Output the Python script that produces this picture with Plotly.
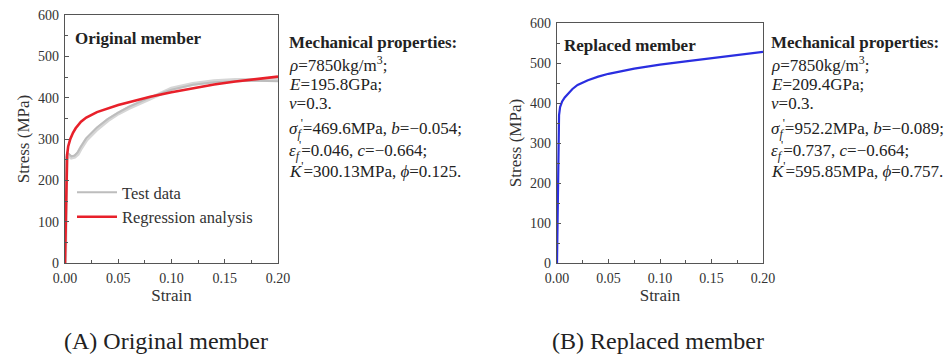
import plotly.graph_objects as go

# Original member: regression curve and test data (strain, stress in MPa)
orig_strain = [0, 0.0012, 0.002, 0.003, 0.005, 0.0075, 0.01, 0.015, 0.02, 0.03, 0.04,
               0.05, 0.06, 0.08, 0.10, 0.12, 0.14, 0.16, 0.18, 0.20]
orig_regression = [0, 235, 262, 282, 300, 315, 326, 342, 352, 365, 374,
                   382, 389, 402, 413, 423, 432, 439, 445, 451]

test_strain = [0, 0.0013, 0.0025, 0.004, 0.006, 0.009, 0.012, 0.015, 0.02, 0.03, 0.04,
               0.05, 0.06, 0.08, 0.10, 0.12, 0.14, 0.16, 0.18, 0.20]
test_a = [0, 255, 266, 262, 258, 260, 268, 282, 302, 328, 348,
          364, 378, 401, 419, 431, 437, 440, 441, 440]
test_b = [0, 250, 262, 259, 255, 257, 264, 278, 298, 324, 345,
          362, 375, 398, 422, 433, 440, 443, 444, 443]

# Replaced member: regression curve
repl_strain = [0, 0.0015, 0.002, 0.003, 0.005, 0.0075, 0.01, 0.015, 0.02, 0.03, 0.04,
               0.05, 0.075, 0.10, 0.125, 0.15, 0.175, 0.20]
repl_stress = [0, 330, 370, 390, 404, 414, 421, 435, 445, 457, 466,
               473, 486, 496, 504, 512, 520, 528]

x_ticks = [0.00, 0.05, 0.10, 0.15, 0.20]
x_tick_text = ["0.00", "0.05", "0.10", "0.15", "0.20"]
y_ticks = [0, 100, 200, 300, 400, 500, 600]

props_a = [
    "<b>Mechanical properties:</b>",
    "<i>ρ</i>=7850kg/m<sup>3</sup>;",
    "<i>E</i>=195.8GPa;",
    "<i>ν</i>=0.3.",
    "<i>σ</i><sub><i>f</i></sub><sup>'</sup>=469.6MPa, <i>b</i>=−0.054;",
    "<i>ε</i><sub><i>f</i></sub><sup>'</sup>=0.046, <i>c</i>=−0.664;",
    "<i>K</i><sup>'</sup>=300.13MPa, <i>ϕ</i>=0.125.",
]
props_b = [
    "<b>Mechanical properties:</b>",
    "<i>ρ</i>=7850kg/m<sup>3</sup>;",
    "<i>E</i>=209.4GPa;",
    "<i>ν</i>=0.3.",
    "<i>σ</i><sub><i>f</i></sub><sup>'</sup>=952.2MPa, <i>b</i>=−0.089;",
    "<i>ε</i><sub><i>f</i></sub><sup>'</sup>=0.737, <i>c</i>=−0.664;",
    "<i>K</i><sup>'</sup>=595.85MPa, <i>ϕ</i>=0.757.",
]

W, H = 945, 354
SERIF = "Liberation Serif"
INK = "#333333"


def px(yp):
    return 1 - yp / H


fig = go.Figure()

fig.add_trace(go.Scatter(x=test_strain, y=test_b, mode="lines", xaxis="x", yaxis="y",
                         line=dict(color="#d6d6d6", width=4), showlegend=False,
                         hoverinfo="skip"))
fig.add_trace(go.Scatter(x=test_strain, y=test_a, mode="lines", xaxis="x", yaxis="y",
                         line=dict(color="#bdbdbd", width=2), name="Test data"))
fig.add_trace(go.Scatter(x=orig_strain, y=orig_regression, mode="lines", xaxis="x", yaxis="y",
                         line=dict(color="#e8202a", width=2.6), name="Regression analysis"))
fig.add_trace(go.Scatter(x=repl_strain, y=repl_stress, mode="lines", xaxis="x2", yaxis="y2",
                         line=dict(color="#2a2ee0", width=2.2), showlegend=False))

axis_common = dict(
    showgrid=False, zeroline=False, showline=True, linecolor="#555555", linewidth=1.2,
    mirror=True, ticks="inside", ticklen=4, tickcolor="#555555", automargin=False,
    tickfont=dict(family=SERIF, size=14, color=INK),
)
minor_x = dict(ticks="inside", ticklen=2.5, dtick=0.025, tickcolor="#555555")
minor_y = dict(ticks="inside", ticklen=2.5, dtick=50, tickcolor="#555555")
title_font = dict(family=SERIF, size=17, color=INK)

fig.update_layout(
    width=W, height=H, margin=dict(l=0, r=0, t=0, b=0),
    paper_bgcolor="white", plot_bgcolor="white",
    xaxis=dict(domain=[65 / W, 278 / W], range=[0, 0.2], tickvals=x_ticks,
               ticktext=x_tick_text, minor=minor_x, anchor="y", ticklabelstandoff=2,
               title=dict(text="Strain", font=title_font, standoff=2), **axis_common),
    yaxis=dict(domain=[px(263), px(15)], range=[0, 600], tickvals=y_ticks, minor=minor_y,
               anchor="x", ticklabelstandoff=2,
               title=dict(text="Stress (MPa)", font=title_font, standoff=4), **axis_common),
    xaxis2=dict(domain=[557 / W, 763 / W], range=[0, 0.2], tickvals=x_ticks,
                ticktext=x_tick_text, minor=minor_x, anchor="y2", ticklabelstandoff=2,
                title=dict(text="Strain", font=title_font, standoff=2), **axis_common),
    yaxis2=dict(domain=[px(263), px(23)], range=[0, 600], tickvals=y_ticks, minor=minor_y,
                anchor="x2", ticklabelstandoff=2,
                title=dict(text="Stress (MPa)", font=title_font, standoff=4), **axis_common),
    legend=dict(x=72 / W, y=px(175), xanchor="left", yanchor="top",
                bgcolor="rgba(0,0,0,0)", tracegroupgap=0, itemwidth=40,
                font=dict(family=SERIF, size=16.5, color=INK)),
)

annotations = [
    dict(text="<b>Original member</b>", x=73 / W, y=px(38), xanchor="left", yanchor="middle",
         font=dict(family=SERIF, size=17, color="#222222")),
    dict(text="<b>Replaced member</b>", x=562 / W, y=px(45), xanchor="left", yanchor="middle",
         font=dict(family=SERIF, size=17, color="#222222")),
    dict(text="(A) Original member", x=166 / W, y=px(341), xanchor="center", yanchor="middle",
         font=dict(family=SERIF, size=24, color="#222222")),
    dict(text="(B) Replaced member", x=658 / W, y=px(341), xanchor="center", yanchor="middle",
         font=dict(family=SERIF, size=24, color="#222222")),
]

line_y = [42, 64, 84, 103, 129, 150, 170]
for texts, x0 in ((props_a, 287), (props_b, 769)):
    for t, yy in zip(texts, line_y):
        annotations.append(dict(text=t, x=x0 / W, y=px(yy), xanchor="left", yanchor="middle",
                                font=dict(family=SERIF, size=17, color="#222222")))

for a in annotations:
    a.update(xref="paper", yref="paper", showarrow=False)
fig.update_layout(annotations=annotations)

fig.write_html("out.html")
